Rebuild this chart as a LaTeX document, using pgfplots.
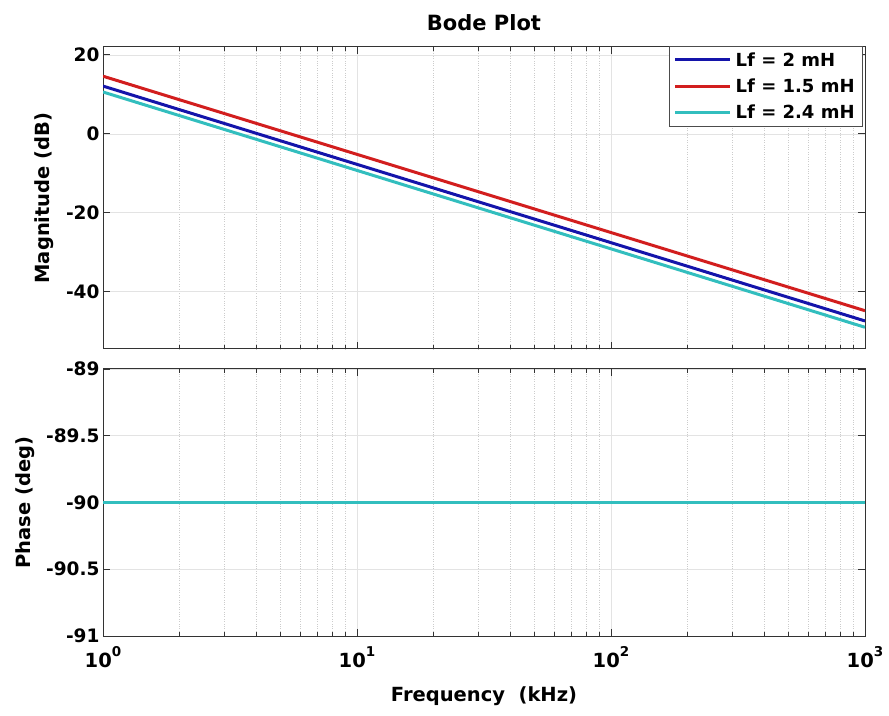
\documentclass[border=0pt]{standalone}
\usepackage{pgfplots}
\pgfplotsset{compat=1.18}
\usepackage{fontspec}
\setmainfont{DejaVu Sans}
\definecolor{cblue}{RGB}{20,20,170}
\definecolor{cred}{RGB}{210,30,30}
\definecolor{ccyan}{RGB}{50,190,190}
\newcommand{\expo}[1]{\raisebox{0.55em}{\fontsize{13.5}{14}\selectfont\bfseries #1}}
\pgfplotsset{
  every axis/.append style={
    scale only axis, width=762pt,
    axis line style={line width=1pt, black!80},
    major tick length=7pt, minor tick length=4pt,
    tick align=inside, xtick pos=both, ytick pos=both,
    tick style={black!80, line width=0.8pt},
    grid=both,
    major grid style={gray!22, line width=0.6pt},
    minor grid style={gray!40, dotted, line width=0.6pt},
    tick label style={font=\fontsize{18.5}{21}\selectfont\bfseries},
    label style={font=\fontsize{19.5}{22}\selectfont\bfseries},
    ylabel style={yshift=5pt},
  }
}
\begin{document}
\begin{tikzpicture}
\useasboundingbox (0pt,0pt) rectangle (889pt,715pt);
\begin{semilogxaxis}[height=302pt, at={(103pt,366pt)}, anchor=south west,
  xmin=1, xmax=1000,
  xtick={1,10,100,1000},
  minor xtick={2,3,4,5,6,7,8,9,20,30,40,50,60,70,80,90,200,300,400,500,600,700,800,900},
  ymin=-54.5, ymax=22,
  ytick={-40,-20,0,20}, yticklabels={-40,-20,0,20},
  xticklabels={},
  ylabel={Magnitude (dB)},
  title={Bode Plot},
  title style={font=\fontsize{21}{24}\selectfont\bfseries, yshift=7pt},
  legend style={at={(1,1)}, anchor=north east, xshift=-2pt, yshift=1pt,
    draw=black!70, line width=0.8pt, fill=white,
    font=\fontsize{18}{21}\selectfont\bfseries,
    row sep=7pt, inner sep=4pt,
    nodes={inner xsep=4pt}},
  legend cell align=left,
  legend image code/.code={\draw[#1] (0pt,0pt) -- (55pt,0pt);},
]
\addplot[cblue, line width=3pt] coordinates {(1,12.1) (1000,-47.4)};
\addlegendentry{Lf = 2 mH}
\addplot[cred, line width=3pt] coordinates {(1,14.6) (1000,-44.8)};
\addlegendentry{Lf = 1.5 mH}
\addplot[ccyan, line width=3pt] coordinates {(1,10.6) (1000,-49.0)};
\addlegendentry{Lf = 2.4 mH}
\end{semilogxaxis}
\begin{semilogxaxis}[height=267pt, at={(103pt,79pt)}, anchor=south west,
  xmin=1, xmax=1000,
  xtick={1,10,100,1000},
  minor xtick={2,3,4,5,6,7,8,9,20,30,40,50,60,70,80,90,200,300,400,500,600,700,800,900},
  ymin=-91, ymax=-89,
  ytick={-91,-90.5,-90,-89.5,-89}, yticklabels={-91,-90.5,-90,-89.5,-89},
  xticklabels={10\expo{0},10\expo{1},10\expo{2},10\expo{3}},
  xticklabel style={yshift=-7pt, font=\fontsize{19.5}{22}\selectfont\bfseries},
  xlabel={Frequency\ \ (kHz)},
  xlabel style={yshift=-12pt},
  ylabel={Phase (deg)},
]
\addplot[cblue, line width=3pt] coordinates {(1,-90) (1000,-90)};
\addplot[cred, line width=3pt] coordinates {(1,-90) (1000,-90)};
\addplot[ccyan, line width=3pt] coordinates {(1,-90) (1000,-90)};
\end{semilogxaxis}
\end{tikzpicture}
\end{document}
